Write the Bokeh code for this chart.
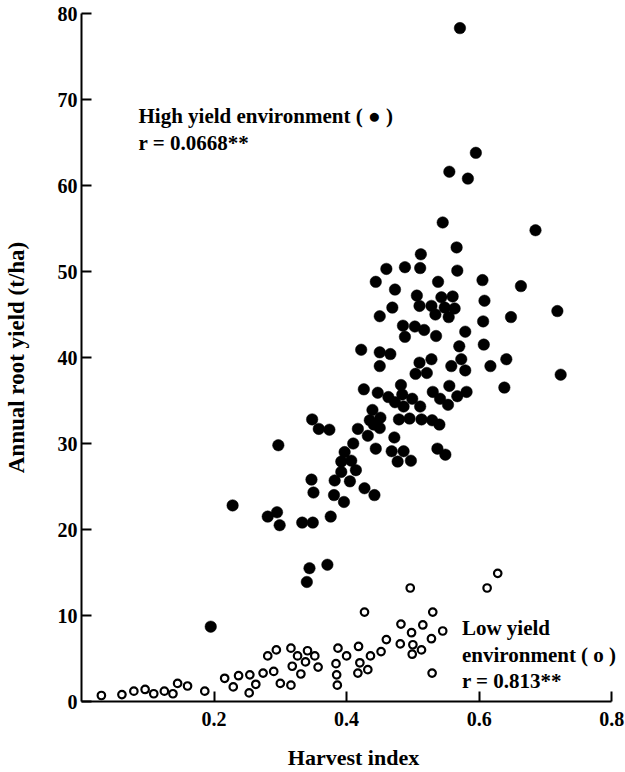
from bokeh.plotting import figure
from bokeh.models import Range1d, FixedTicker, Label
from bokeh.embed import file_html
from bokeh.resources import INLINE

# High yield environment (filled)
high_x = [0.571, 0.595, 0.555, 0.583, 0.545, 0.685, 0.566, 0.567, 0.538, 0.605,
          0.663, 0.608, 0.718, 0.648, 0.606, 0.543, 0.560, 0.528, 0.548, 0.563,
          0.534, 0.554, 0.535, 0.579, 0.570, 0.607, 0.528, 0.573, 0.558, 0.579,
          0.617, 0.641, 0.521, 0.723, 0.555, 0.638, 0.530, 0.581, 0.567, 0.512,
          0.460, 0.488, 0.511, 0.444, 0.473, 0.506, 0.510, 0.469, 0.450, 0.485,
          0.503, 0.517, 0.488, 0.422, 0.450, 0.466, 0.510, 0.450, 0.504, 0.426,
          0.482, 0.447, 0.463, 0.541, 0.473, 0.484, 0.499, 0.553, 0.439, 0.486,
          0.511, 0.451, 0.435, 0.479, 0.495, 0.513, 0.529, 0.540, 0.441, 0.450,
          0.417, 0.432, 0.472, 0.410, 0.444, 0.468, 0.486, 0.537, 0.549, 0.477,
          0.497, 0.348, 0.358, 0.374, 0.297, 0.397, 0.392, 0.407, 0.392, 0.414,
          0.347, 0.382, 0.405, 0.350, 0.427, 0.442, 0.381, 0.396, 0.228, 0.295,
          0.281, 0.299, 0.333, 0.349, 0.376, 0.344, 0.371, 0.340, 0.195]
high_y = [78.3, 63.8, 61.6, 60.8, 55.7, 54.8, 52.8, 50.1, 48.8, 49.0,
          48.3, 46.6, 45.4, 44.7, 44.2, 47.0, 47.1, 46.0, 45.8, 45.7,
          45.0, 44.7, 42.5, 43.0, 41.3, 41.5, 39.8, 39.8, 39.0, 38.5,
          39.0, 39.8, 38.2, 38.0, 36.7, 36.5, 36.0, 36.0, 35.5, 52.0,
          50.3, 50.5, 50.4, 48.8, 47.9, 47.2, 46.0, 45.8, 44.8, 43.7,
          43.6, 43.2, 42.4, 40.9, 40.6, 40.4, 39.4, 39.0, 38.1, 36.3,
          36.8, 35.9, 35.4, 35.2, 34.8, 35.7, 35.2, 34.5, 33.9, 34.3,
          34.3, 33.0, 32.7, 32.8, 32.9, 32.8, 32.7, 32.2, 32.2, 31.8,
          31.7, 30.9, 30.7, 30.0, 29.4, 29.1, 29.1, 29.4, 28.7, 27.9,
          28.0, 32.8, 31.7, 31.6, 29.8, 29.0, 27.9, 28.0, 26.7, 26.9,
          25.8, 25.7, 25.6, 24.3, 24.8, 24.0, 24.0, 23.2, 22.8, 22.0,
          21.5, 20.5, 20.8, 20.8, 21.5, 15.5, 15.9, 13.9, 8.7]

# Low yield environment (open)
low_x = [0.030, 0.061, 0.079, 0.096, 0.109, 0.125, 0.138, 0.145, 0.160, 0.186,
         0.216, 0.229, 0.237, 0.254, 0.253, 0.263, 0.274, 0.281, 0.294, 0.290,
         0.300, 0.316, 0.316, 0.318, 0.326, 0.331, 0.338, 0.341, 0.352, 0.357,
         0.384, 0.385, 0.386, 0.387, 0.400, 0.417, 0.418, 0.420, 0.427, 0.432,
         0.436, 0.452, 0.460, 0.481, 0.482, 0.496, 0.498, 0.499, 0.500, 0.513,
         0.515, 0.528, 0.529, 0.530, 0.545, 0.612, 0.628]
low_y = [0.7, 0.8, 1.2, 1.4, 0.9, 1.2, 0.9, 2.1, 1.8, 1.2,
         2.7, 1.7, 3.0, 3.1, 1.0, 2.0, 3.3, 5.3, 6.0, 3.5,
         2.1, 6.2, 1.9, 4.1, 5.3, 3.2, 4.6, 5.9, 5.3, 4.0,
         4.4, 3.1, 1.9, 6.2, 5.3, 3.3, 6.4, 4.5, 10.4, 3.7,
         5.3, 5.8, 7.2, 6.7, 9.0, 13.2, 8.0, 5.5, 6.6, 6.0,
         8.9, 7.3, 3.3, 10.4, 8.2, 13.2, 14.9]

x_ticks = [0.2, 0.4, 0.6, 0.8]
y_ticks = [0, 10, 20, 30, 40, 50, 60, 70, 80]
x_title = "Harvest index"
y_title = "Annual root yield (t/ha)"
high_label = ["High yield environment ( \u25cf )", "r = 0.0668**"]
low_label = ["Low yield", "environment ( o )", "r = 0.813**"]

FONT = "Liberation Serif"

p = figure(width=625, height=772, title=None,
           x_range=Range1d(0, 0.8208), y_range=Range1d(0, 80),
           min_border_left=80, min_border_right=0,
           min_border_top=13, min_border_bottom=64,
           output_backend="svg", toolbar_location=None)
p.outline_line_color = None
p.grid.visible = False
p.background_fill_color = "white"
p.border_fill_color = "white"

p.xaxis.ticker = FixedTicker(ticks=x_ticks)
p.yaxis.ticker = FixedTicker(ticks=y_ticks)
p.xaxis.bounds = (0, 0.8)
p.yaxis.bounds = (0, 80)
for ax in (p.xaxis[0], p.yaxis[0]):
    ax.axis_line_width = 2
    ax.axis_line_color = "black"
    ax.major_tick_line_width = 2
    ax.major_tick_line_color = "black"
    ax.major_tick_in = 10
    ax.major_tick_out = 0
    ax.minor_tick_line_color = None
    ax.major_label_text_font = FONT
    ax.major_label_text_font_style = "bold"
    ax.major_label_text_font_size = "20px"
    ax.major_label_text_color = "black"
    ax.axis_label_text_font = FONT
    ax.axis_label_text_font_style = "bold"
    ax.axis_label_text_color = "black"

p.xaxis.axis_label = x_title
p.yaxis.axis_label = y_title
p.xaxis.axis_label_text_font_size = "22px"
p.yaxis.axis_label_text_font_size = "23px"
p.xaxis.major_label_standoff = 10
p.xaxis.axis_label_standoff = 16
p.yaxis.major_label_standoff = 4
p.yaxis.axis_label_standoff = 26

p.scatter(high_x, high_y, marker="circle", size=11.5,
          fill_color="black", line_color="black", line_width=0.5)
p.scatter(low_x, low_y, marker="circle", size=7.5,
          fill_color=None, line_color="black", line_width=2.2)

def add_lines(lines, x, y0, dy):
    for i, t in enumerate(lines):
        p.add_layout(Label(x=x, y=y0 - i * dy, x_units="data", y_units="data",
                           text=t, text_font=FONT, text_font_style="bold",
                           text_font_size="21px", text_color="black",
                           text_baseline="alphabetic"))

add_lines(high_label, 0.086, 68.05, 3.1)
add_lines(low_label, 0.574, 8.5, 3.05)

open("out.html", "w").write(file_html(p, INLINE))
